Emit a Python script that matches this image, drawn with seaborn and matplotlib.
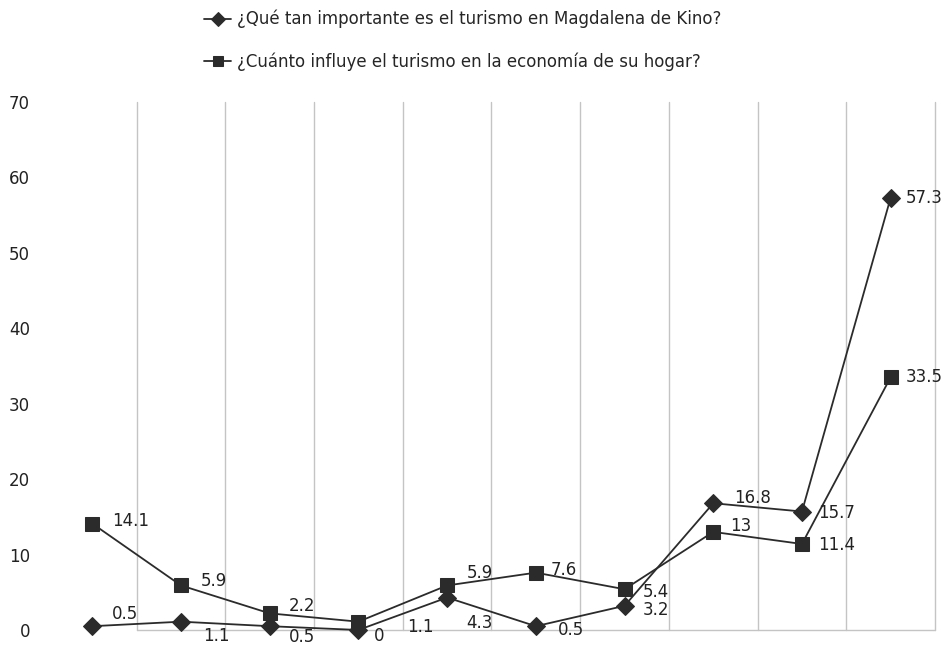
import pandas as pd
import seaborn as sns
import matplotlib.pyplot as plt

# Data
categories = list(range(10))
importancia = [0.5, 1.1, 0.5, 0, 4.3, 0.5, 3.2, 16.8, 15.7, 57.3]
economia = [14.1, 5.9, 2.2, 1.1, 5.9, 7.6, 5.4, 13, 11.4, 33.5]
serie_1 = '¿Qué tan importante es el turismo en Magdalena de Kino?'
serie_2 = '¿Cuánto influye el turismo en la economía de su hogar?'

# label offsets (points) for value annotations
off_1 = [(14, 9), (16, -10), (14, -8), (11, -4), (14, -18), (16, -3), (13, -3), (15, 4), (12, -1), (11, 0)]
off_2 = [(14, 2), (14, 3), (14, 5), (35, -4), (14, 9), (11, 2), (13, -2), (12, 4), (12, -1), (11, 0)]

sns.set_style('white')
plt.rcParams['font.family'] = ['DejaVu Sans']

df = pd.DataFrame({
    'cat': categories * 2,
    'valor': importancia + economia,
    'serie': [serie_1] * 10 + [serie_2] * 10,
})

fig = plt.figure(figsize=(9.48, 6.45), dpi=100)
ax = fig.add_axes([0.0506, 0.0233, 0.9357, 0.8187])

sns.lineplot(data=df, x='cat', y='valor', style='serie', hue='serie',
             palette=['#2b2b2b', '#2b2b2b'], markers={serie_1: 'D', serie_2: 's'},
             dashes=False, markersize=9.5, linewidth=1.3, ax=ax,
             markeredgecolor='#2b2b2b', clip_on=False, zorder=3)

for vals, offs in [(importancia, off_1), (economia, off_2)]:
    for x, v, o in zip(categories, vals, offs):
        ax.annotate(f'{v:g}', (x, v), xytext=o, textcoords='offset points',
                    ha='left', va='center', fontsize=12, color='#222222',
                    annotation_clip=False)

ax.set_xlim(-0.5, 9.5)
ax.set_ylim(0, 70)
ax.set_yticks(range(0, 71, 10))
ax.set_xticks([])
ax.tick_params(axis='y', labelsize=12, pad=13, length=0, colors='#222222')
for xg in [i + 0.5 for i in range(10)]:
    ax.axvline(xg, color='#c4c4c4', linewidth=1, zorder=0, clip_on=False)
ax.plot([0.5, 9.5], [0, 0], color='#c4c4c4', linewidth=1, zorder=0, clip_on=False)
for s in ax.spines.values():
    s.set_visible(False)
ax.set_xlabel('')
ax.set_ylabel('')

handles, labels = ax.get_legend_handles_labels()
ax.legend_.remove()
fig.legend(handles, labels, loc='upper left', bbox_to_anchor=(0.205, 1.0),
           frameon=False, fontsize=12, labelspacing=1.45, handlelength=1.6,
           handletextpad=0.35, markerscale=0.7, borderaxespad=0.2)

fig.savefig('out.png', dpi=100)
